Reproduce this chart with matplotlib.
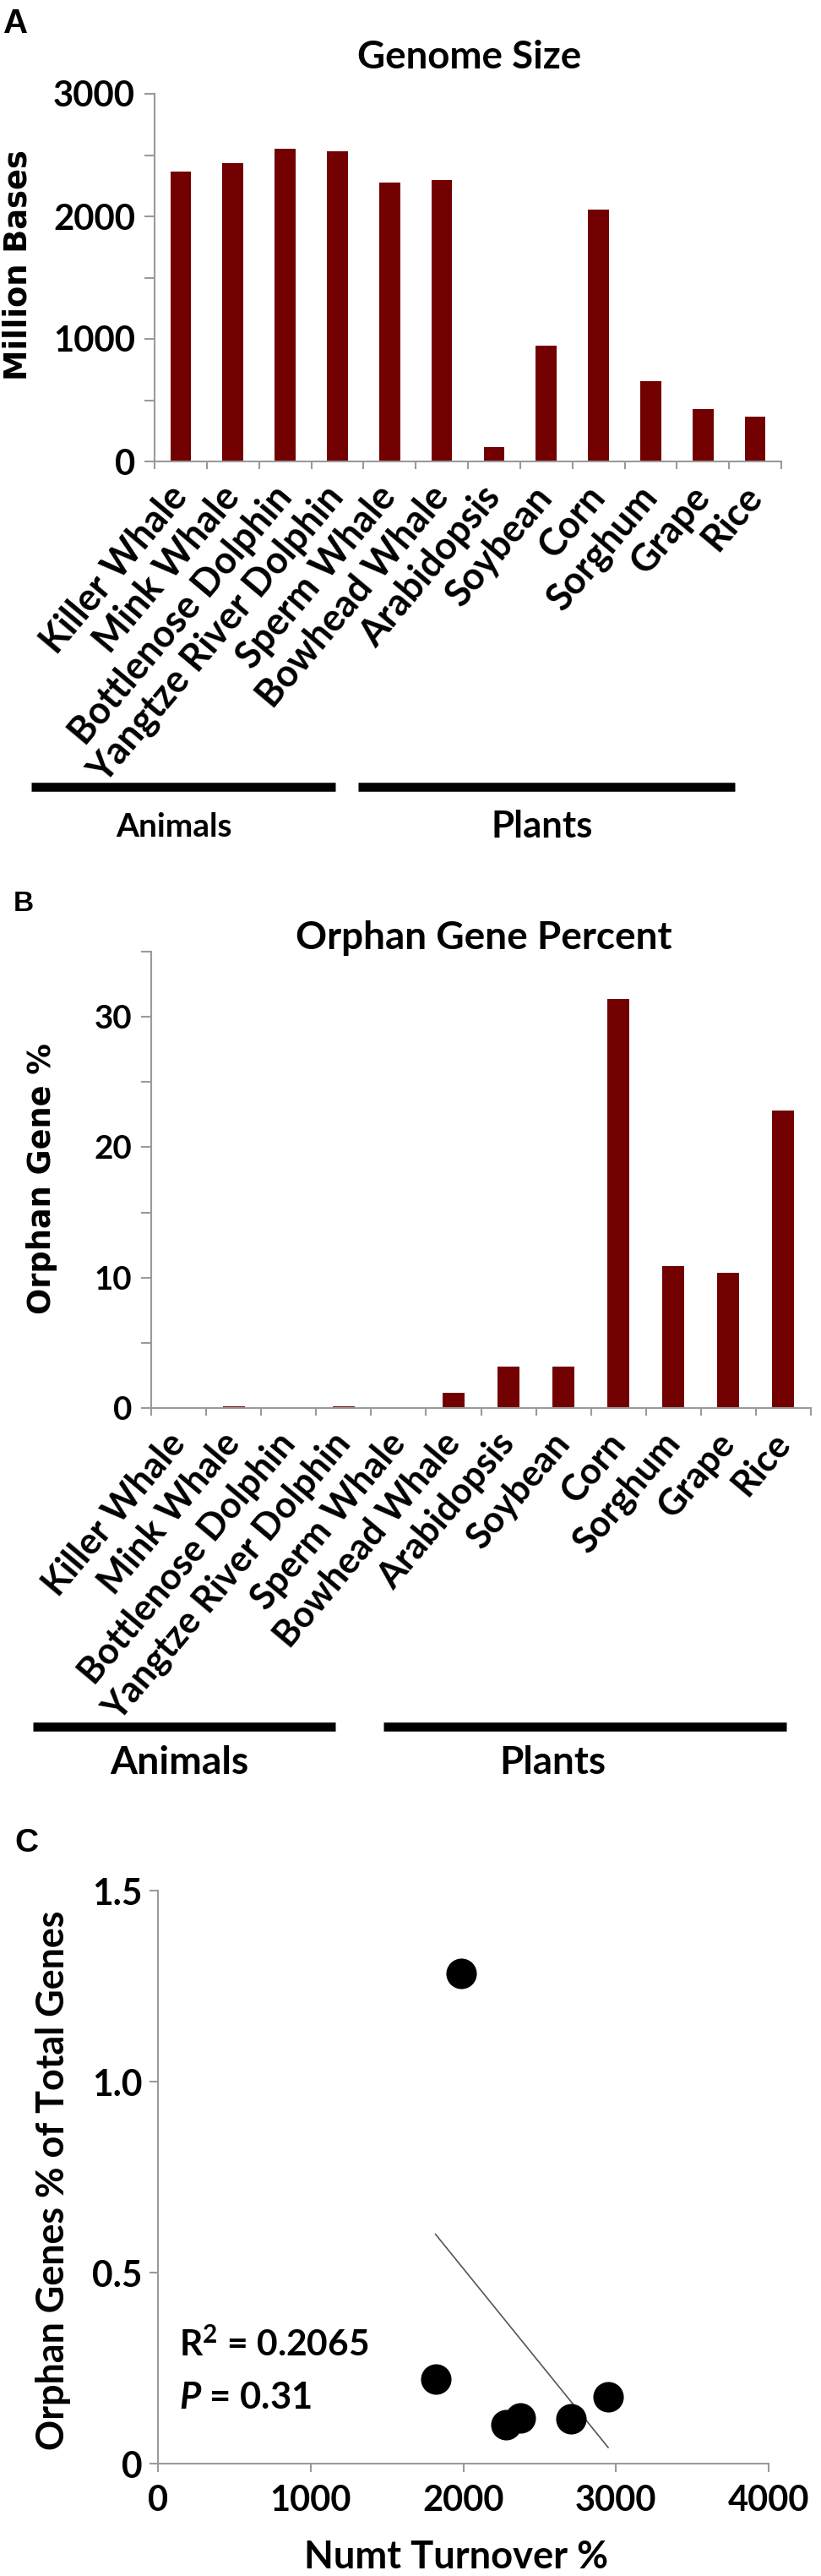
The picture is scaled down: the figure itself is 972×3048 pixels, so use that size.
import matplotlib
matplotlib.use("Agg")
import matplotlib.pyplot as plt
import numpy as np
from matplotlib.lines import Line2D

plt.rcParams["font.family"] = ["Lato", "DejaVu Sans"]
plt.rcParams["font.weight"] = "bold"
plt.rcParams["mathtext.fontset"] = "custom"
plt.rcParams["mathtext.rm"] = "Lato:bold"
plt.rcParams["mathtext.it"] = "Lato:bold:italic"

species = ["Killer Whale", "Mink Whale", "Bottlenose Dolphin", "Yangtze River Dolphin",
           "Sperm Whale", "Bowhead Whale", "Arabidopsis", "Soybean", "Corn",
           "Sorghum", "Grape", "Rice"]
genome_size = [2366, 2437, 2551, 2530, 2273, 2297, 114, 944, 2054, 656, 426, 367]
orphan_pct = [0, 0.12, 0, 0.12, 0, 1.16, 3.2, 3.2, 31.4, 10.9, 10.4, 22.8]

numt_turnover = [1988, 1818, 2282, 2375, 2704, 2949]
orphan_total = [1.284, 0.222, 0.101, 0.120, 0.117, 0.175]

bar_color = "#720000"
axis_gray = "#9a9a9a"
W, H = 972, 3048

fig = plt.figure(figsize=(W / 100, H / 100), dpi=100)


def fx(px):
    return px / W


def fy(py):
    return 1 - py / H


def ftext(x, y, s, **kw):
    return fig.text(fx(x), fy(y), s, ha=kw.pop("ha", "center"), va=kw.pop("va", "center"), **kw)


def style_axes(ax):
    for s in ["top", "right"]:
        ax.spines[s].set_visible(False)
    for s in ["left", "bottom"]:
        ax.spines[s].set_color(axis_gray)
        ax.spines[s].set_linewidth(1.5)


def bar_panel(rect, values, ymax, ystep, label_step):
    ax = fig.add_axes(rect)
    x = np.arange(len(values))
    ax.bar(x, values, width=0.4, color=bar_color)
    ax.set_xlim(-0.5, len(values) - 0.5)
    ax.set_ylim(0, ymax)
    ticks = np.arange(0, ymax + ystep / 2, ystep)
    ax.set_yticks(ticks)
    ax.set_yticklabels([f"{t:g}" if t % label_step == 0 else "" for t in ticks])
    ax.set_xticks(np.arange(len(values) + 1) - 0.5)
    ax.set_xticklabels([])
    ax.set_xticks(x, minor=True)
    ax.set_xticklabels(species, minor=True, rotation=50, ha="right", va="center",
                       rotation_mode="anchor")
    ax.tick_params(axis="x", which="minor", length=0, pad=25)
    ax.tick_params(axis="x", which="major", length=6.5, color=axis_gray, width=1.5)
    ax.tick_params(axis="y", length=8.5, color=axis_gray, width=1.5, pad=8)
    style_axes(ax)
    return ax


axA = bar_panel([fx(183), fy(546), 742 / W, 435 / H], genome_size, 3000, 500, 1000)
axB = bar_panel([fx(179), fy(1666), 781 / W, 540 / H], orphan_pct, 35, 5, 10)


def group_bar(x0, x1, y):
    fig.add_artist(Line2D([fx(x0), fx(x1)], [fy(y), fy(y)], color="black",
                          linewidth=7.6, solid_capstyle="butt"))


group_bar(37, 397, 931)
group_bar(424, 870, 931)
group_bar(39, 397, 2043)
group_bar(454, 931, 2043)

# panel C
axC = fig.add_axes([fx(187), fy(2915), 723 / W, 678 / H])
axC.scatter(numt_turnover, orphan_total, s=676, color="black", linewidths=0, zorder=3)
slope, intercept = np.polyfit(numt_turnover, orphan_total, 1)
fit_x = np.array([min(numt_turnover), max(numt_turnover)])
axC.plot(fit_x, slope * fit_x + intercept, color="#555555", linewidth=1.2)
axC.set_xlim(0, 4000)
axC.set_ylim(0, 1.5)
axC.set_xticks([0, 1000, 2000, 3000, 4000])
axC.set_yticks([0, 0.5, 1.0, 1.5])
axC.set_yticklabels(["0", "0.5", "1.0", "1.5"])
axC.tick_params(length=7, color=axis_gray, width=1.5)
axC.tick_params(axis="x", pad=11)
axC.tick_params(axis="y", pad=6.5)
style_axes(axC)

# free text, placed by centre in pixels; (text, target extent px, measured dim)
texts = [
    (ftext(556, 68, "Genome Size"), 266, "w"),
    (ftext(573, 1110, "Orphan Gene Percent"), 447, "w"),
    (ftext(21, 314, "Million Bases", rotation=90, family="DejaVu Sans"), 272, "h"),
    (ftext(49, 1395, "Orphan Gene %", rotation=90, family="DejaVu Sans"), 321, "h"),
    (ftext(63, 2580, "Orphan Genes % of Total Genes", rotation=90), 641, "h"),
    (ftext(540, 3026, "Numt Turnover %"), 362, "w"),
    (ftext(206, 978, "Animals"), 138, "w"),
    (ftext(642, 978, "Plants"), 120, "w"),
    (ftext(212, 2086, "Animals"), 164, "w"),
    (ftext(654, 2086, "Plants"), 126, "w"),
    (ftext(212, 2774, "R$^2$ = 0.2065", ha="left"), 228, "w"),
    (ftext(212, 2837, "$P$ = 0.31", ha="left"), 161, "w"),
]
for s, x, y, size in [("A", 19, 28, 29), ("B", 28, 1070, 24), ("C", 31, 2181, 28)]:
    ftext(x, y, s, fontsize=size, family="Liberation Sans")

fig.canvas.draw()
renderer = fig.canvas.get_renderer()


def extent(t, dim):
    bb = t.get_window_extent(renderer)
    return bb.width if dim == "w" else bb.height


for t, target, dim in texts:
    t.set_fontsize(t.get_fontsize() * target / extent(t, dim))


def fit_ticks(ax, axis, which, label, target, dim):
    labels = (ax.xaxis if axis == "x" else ax.yaxis).get_ticklabels(minor=(which == "minor"))
    t = [l for l in labels if l.get_text() == label][0]
    size = t.get_fontsize() * target / extent(t, dim)
    ax.tick_params(axis=axis, which=which, labelsize=size)


fit_ticks(axA, "y", "major", "2000", 98, "w")
fit_ticks(axB, "y", "major", "20", 45, "w")
fit_ticks(axC, "y", "major", "1.5", 59, "w")
fit_ticks(axC, "x", "major", "1000", 97, "w")
fit_ticks(axA, "x", "minor", "Yangtze River Dolphin", 315, "w")
fit_ticks(axB, "x", "minor", "Yangtze River Dolphin", 305, "w")

fig.savefig("out.png", dpi=100)
